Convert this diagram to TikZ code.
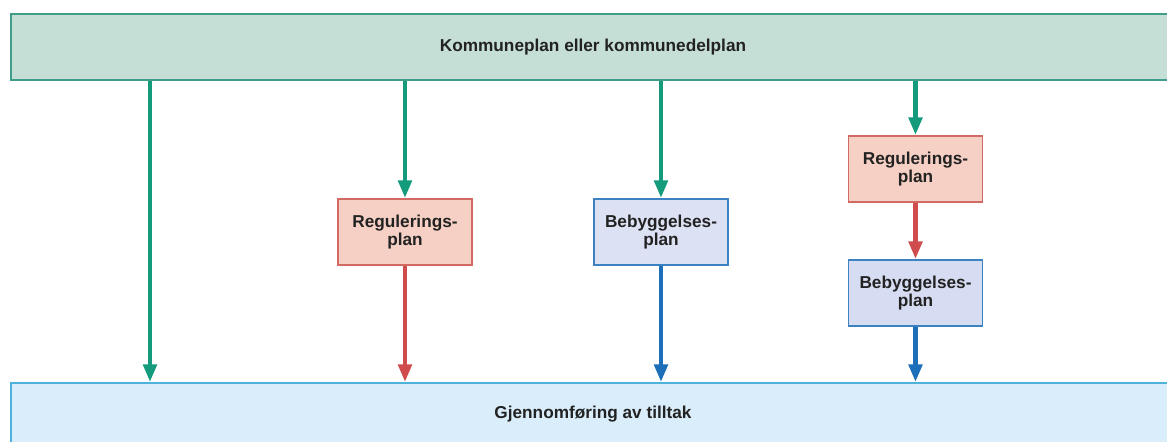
\documentclass[tikz,border=0pt]{standalone}
\usepackage{fontspec}
\setmainfont{Liberation Sans}
\usepackage{xcolor}
\usepackage{tikz}
\usetikzlibrary{shapes.geometric, arrows.meta}
\definecolor{kpfill}{HTML}{C6DFD6}
\definecolor{kpdraw}{HTML}{3F9D89}
\definecolor{kparrow}{HTML}{139B7C}
\definecolor{regfill}{HTML}{F6D0C4}
\definecolor{regdraw}{HTML}{D26A64}
\definecolor{regarrow}{HTML}{D04B4B}
\definecolor{bebfill}{HTML}{D6DCF1}
\definecolor{bebdraw}{HTML}{3C82C0}
\definecolor{bebarrow}{HTML}{1C6FB8}
\definecolor{gjfill}{HTML}{D9EDFA}
\definecolor{gjdraw}{HTML}{4EB3DA}
\definecolor{txt}{HTML}{222222}
\tikzstyle{wideplan} = [rectangle,
					  minimum width=23.28cm,
					  line width=1.1pt,
					  text=txt,
					  font=\bfseries\fontsize{9.8}{11}\selectfont,
					 ]
\tikzstyle{planbox} = [rectangle,
					  minimum width=2.68cm,
					  minimum height=1.32cm,
					  align=center,
					  line width=1.1pt,
					  text=txt,
					  inner sep=0pt,
					  font=\bfseries\fontsize{9.8}{10.5}\selectfont,
					 ]
\tikzstyle{arrow} = [line width=2.5pt,-{Triangle[length=10pt,width=7.5pt]}]

\begin{document}
\begin{tikzpicture}[node distance=2.48cm]
\useasboundingbox (0,0) rectangle (23.34,8.82);

\node (kp) [wideplan, fill=kpfill, draw=kpdraw, minimum height=1.32cm] at (11.86,7.88) {Kommuneplan eller kommunedelplan};
\node (gj) [wideplan, fill=gjfill, draw=gjdraw, minimum height=1.24cm] at (11.86,0.54) {Gjennomføring av tilltak};

\node (regA) [planbox, fill=regfill, draw=regdraw] at (8.1,4.18) {Regulerings-\\plan};
\node (bebA) [planbox, fill=bebfill!85!white, draw=bebdraw] at (13.22,4.18) {Bebyggelses-\\plan};
\node (regB) [planbox, fill=regfill, draw=regdraw] at (18.31,5.44) {Regulerings-\\plan};
\node (bebB) [planbox, fill=bebfill, draw=bebdraw, below of=regB] {Bebyggelses-\\plan};
\coordinate (direct) at (3.0,4.18);

\draw [arrow, kparrow] (kp.south -| direct) -- (gj.north -| direct);
\draw [arrow, kparrow] (kp.south -| regA) -- (regA);
\draw [arrow, regarrow] (regA) -- (gj.north -| regA);
\draw [arrow, kparrow] (kp.south -| bebA) -- (bebA);
\draw [arrow, bebarrow] (bebA) -- (gj.north -| bebA);
\draw [arrow, kparrow] (kp.south -| regB) -- (regB);
\draw [arrow, regarrow] (regB) -- (bebB);
\draw [arrow, bebarrow] (bebB) -- (gj.north -| bebB);

\end{tikzpicture}
\end{document}
